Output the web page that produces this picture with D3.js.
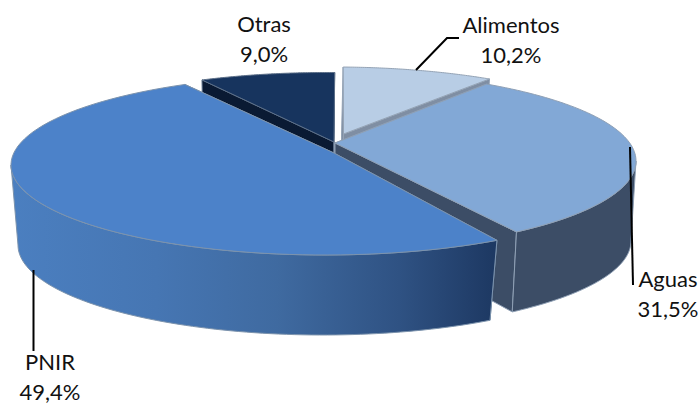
<!DOCTYPE html>
<html><head><meta charset="utf-8">
<style>html,body{margin:0;padding:0;background:#fff;overflow:hidden}text{font-family:Lato,"Open Sans",sans-serif;font-size:22px;fill:#111;text-anchor:middle}</style>
<script src="https://cdn.jsdelivr.net/npm/d3@7"></script>
</head><body><svg id="c" width="698" height="405"></svg>
<script>
// Data
const categories = ["Alimentos","Aguas","PNIR","Otras"];
const shares = [10.2,31.5,49.4,9.0];

// Styles / layout (per slice: top rim ellipse, bottom rim ellipse, apex, trims in degrees)
const topColors  = ["#b8cde5","#82a8d6","#4c82c9","#17345e"];
const wallColors = ["#7f8ea3","#3c4d66","url(#pnirWall)","#0a1a33"];
const strokes    = ["#94a3b5","#8fa0b5","#7c93ad","#5c6f88"];
const topEll  = [[334.5,157,311,90],[325,161,311,90],[325,165,314,90],[326,162.5,311,90]];
const botEll  = [[333,225,305,90],[322,241,309,90],[323,245,305,90],[325,230,305,90]];
const apexTop = [[343.5,134],[335,143],[334,153],[334,142]];
const apexBot = [[342,205],[335,215],[334,225],[334,212]];
const trims   = [[0,-0.7],[0.7,-2],[2.8,-1.5],[1.5,0]];
const labelPos = [[511,33],[668,287],[50,370],[264,32]];
const leaders  = [[[416,70],[447,38],[459,38]],[[630,147],[633,285]],[[33.5,270],[33.5,351]],[]];

const rad = Math.PI/180;
const fmt = v => v.toFixed(1).replace(".",",")+"%";
const arcs = d3.pie().sort(null).value(d=>d)(shares);
// perspective warp: pie angle -> ellipse parameter angle (degrees)
const warp = d3.scaleLinear()
  .domain([arcs[0].startAngle,arcs[0].endAngle,arcs[1].endAngle,arcs[2].endAngle,arcs[3].endAngle])
  .range([1.6,30.6,144,335,361.6]);

const svg = d3.select("#c");
const defs = svg.append("defs");
const g = defs.append("linearGradient").attr("id","pnirWall").attr("gradientUnits","userSpaceOnUse")
  .attr("x1",11).attr("x2",496).attr("y1",0).attr("y2",0);
[[0,"#4b7fc0"],[0.3,"#4676b3"],[0.55,"#3f6aa0"],[0.8,"#2f5283"],[1,"#1d3862"]].forEach(s=>g.append("stop").attr("offset",s[0]).attr("stop-color",s[1]));

const line = d3.line();
const pt = (e,t)=>[e[0]+e[2]*Math.sin(t*rad), e[1]-e[3]*Math.cos(t*rad)];
const samples = (a,b)=>{const n=80;return d3.range(n+1).map(i=>a+(b-a)*i/n);};

const order = [3,0,1,2];
order.forEach(i=>{
  const a = warp(arcs[i].startAngle)+trims[i][0], b = warp(arcs[i].endAngle)+trims[i][1];
  const th = samples(a,b);
  const T=topEll[i], B=botEll[i], aT=apexTop[i], aB=apexBot[i];
  const s = svg.append("g").attr("class","slice").attr("stroke",strokes[i]).attr("stroke-width",1).attr("stroke-linejoin","round");
  // radial walls
  [a,b].forEach(t=>{
    s.append("path").attr("fill",i===2?"#1d3862":wallColors[i])
      .attr("d",line([aT,pt(T,t),pt(B,t),aB])+"Z");
  });
  // outer wall: only the part of the rim that faces the viewer
  const fa=Math.max(a,90), fb=Math.min(b,270);
  if(fb>fa){
    const fth=samples(fa,fb);
    s.append("path").attr("fill",wallColors[i])
      .attr("d",line(fth.map(t=>pt(T,t)).concat(fth.slice().reverse().map(t=>pt(B,t))))+"Z");
  }
  // top face
  s.append("path").datum(arcs[i]).attr("fill",topColors[i])
    .attr("d",line([aT].concat(th.map(t=>pt(T,t))))+"Z");
});

// leaders
leaders.forEach(p=>{ if(p.length) svg.append("path").attr("d",line(p)).attr("fill","none").attr("stroke","#000").attr("stroke-width",2); });
// labels
categories.forEach((c,i)=>{
  svg.append("text").attr("x",labelPos[i][0]).attr("y",labelPos[i][1]).text(c);
  svg.append("text").attr("x",labelPos[i][0]).attr("y",labelPos[i][1]+30).text(fmt(shares[i]));
});
</script></body></html>
